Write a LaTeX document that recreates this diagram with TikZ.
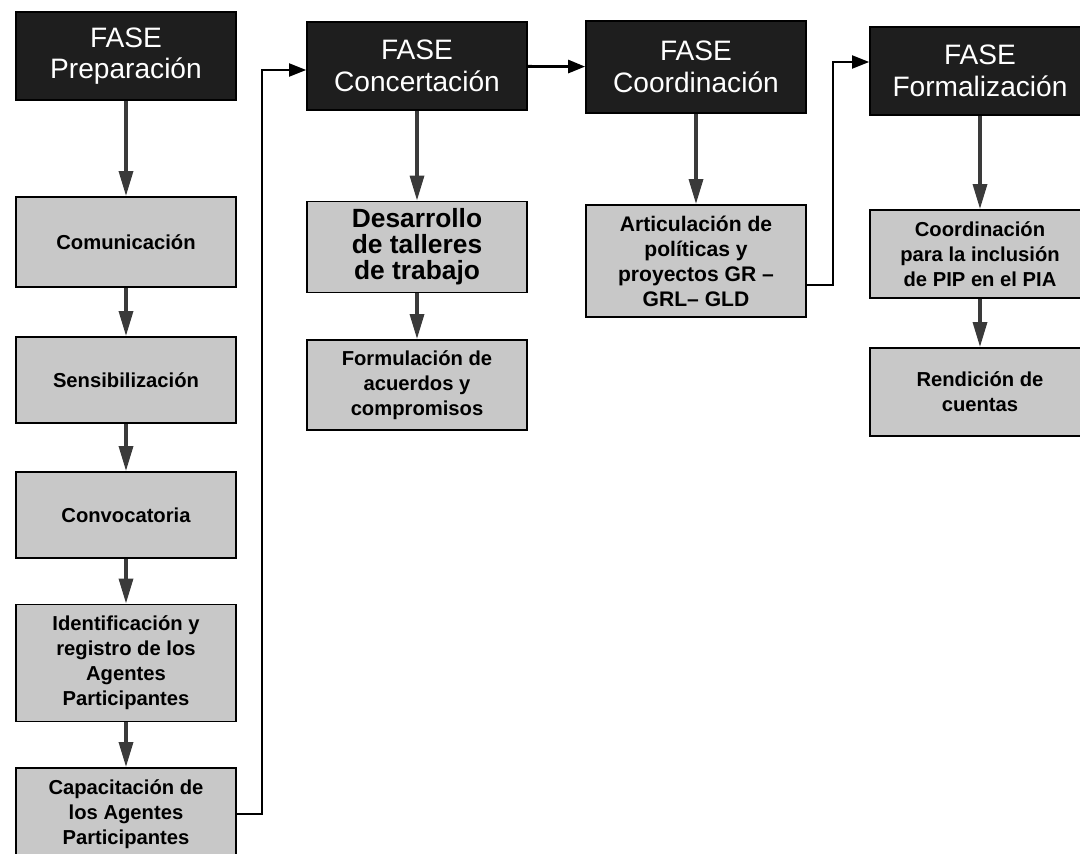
\documentclass[tikz,border=0pt]{standalone}
\usepackage{fontspec}
\setmainfont{Liberation Sans}
\usetikzlibrary{arrows.meta}
\definecolor{phasebg}{RGB}{30,30,30}
\definecolor{taskbg}{RGB}{200,200,200}
\definecolor{flowgray}{RGB}{58,58,58}

\begin{document}
\begin{tikzpicture}
	[%
	x=0.02cm, y=-0.02cm,%
	phase/.style={rectangle,	draw=black,	fill=phasebg,	text=white,	line width=1pt,	inner sep=0pt,	minimum width=4.4cm,	minimum height=1.76cm,	align=center,	font=\fontsize{16}{18}\selectfont},%
	task/.style ={rectangle,	draw=black,	fill=taskbg,	text=black,	line width=1.1pt,	inner sep=0pt,	minimum width=4.4cm,	align=center,	font=\bfseries\fontsize{11.5}{14.2}\selectfont},%
	flow/.style ={draw=flowgray,	line width=1.9pt,	-{Triangle[width=2.8mm, length=5mm]}},%
	link/.style ={draw=black,	line width=1.1pt,	-{Triangle[width=2.6mm, length=3.4mm]}},%
	]

	\newcommand{\lprep}{126}
	\newcommand{\lconc}{417}
	\newcommand{\lcoord}{696}
	\newcommand{\lformal}{980}

	\useasboundingbox (0,0) rectangle (1080,854);
	\clip (0,0) rectangle (1080,854);
	\fill [white] (0,0) rectangle (1080,854);

	% phases
	\node (prep)   at (\lprep,56)   [phase] {FASE\\Preparación};
	\node (conc)   at (\lconc,66)   [phase] {FASE\\Concertación};
	\node (coord)  at (\lcoord,67)  [phase, minimum height=1.84cm] {FASE\\Coordinación};
	\node (formal) at (\lformal,71) [phase] {FASE\\Formalización};

	% tasks
	\node (com)   at (\lprep,242) [task, minimum height=1.8cm]  {Comunicación};
	\node (sens)  at (\lprep,380) [task, minimum height=1.72cm] {Sensibilización};
	\node (conv)  at (\lprep,515) [task, minimum height=1.72cm] {Convocatoria};
	\node (ident) at (\lprep,663) [task, minimum height=2.34cm] {Identificación y\\registro de los\\Agentes\\Participantes};
	\node (cap)   at (\lprep,814) [task, minimum height=1.84cm] {Capacitación de\\los Agentes\\Participantes};

	\node (des)  at (\lconc,247) [task, minimum height=1.82cm, font=\bfseries\fontsize{15}{14.8}\selectfont] {Desarrollo\\de talleres\\de trabajo};
	\node (form) at (\lconc,385) [task, minimum height=1.8cm] {Formulación de\\acuerdos y\\compromisos};

	\node (art) at (\lcoord,261) [task, minimum height=2.24cm, font=\bfseries\fontsize{12}{14.2}\selectfont] {Articulación de\\políticas y\\proyectos GR –\\GRL– GLD};

	\node (pip)  at (\lformal,254) [task, minimum height=1.76cm] {Coordinación\\para la inclusión\\de PIP en el PIA};
	\node (rend) at (\lformal,392) [task, minimum height=1.76cm] {Rendición de\\cuentas};

	% interconnections
	\foreach \a/\b in {prep/com, com/sens, sens/conv, conv/ident, ident/cap, conc/des, des/form, coord/art, formal/pip, pip/rend}%
		\draw [flow] (\a) -- (\b);

	% prep - conc
	\coordinate (upA)  at (262,814);
	\coordinate (topA) at (262,70);
	\draw [link] (cap.east) -- (upA) -- (topA) -- (topA -| conc.west);

	% conc - coord
	\draw [link, line width=1.6pt] (conc) -- (coord);

	% coord - formal
	\coordinate (upB)  at (833,285);
	\coordinate (topB) at (833,62);
	\draw [link] (upB -| art.east) -- (upB) -- (topB) -- (topB -| formal.west);

\end{tikzpicture}
\end{document}
